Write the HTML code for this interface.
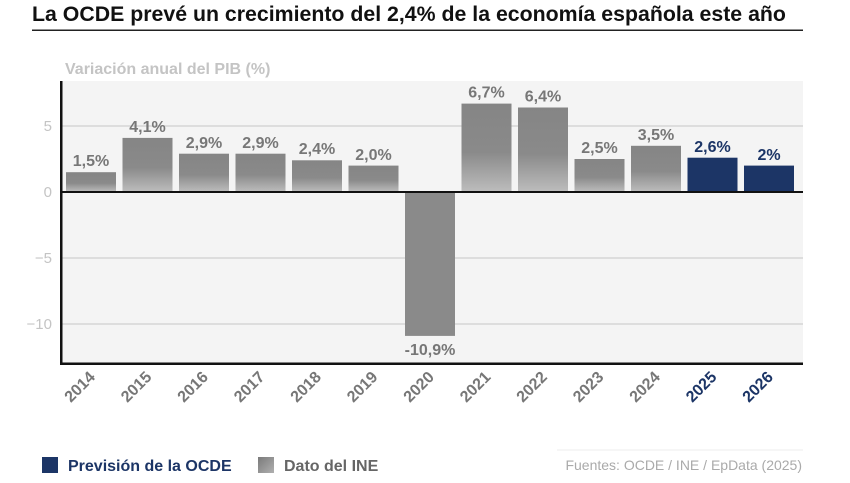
<!DOCTYPE html>
<html><head><meta charset="utf-8"><style>
body{margin:0;background:#fff;width:850px;height:478px;overflow:hidden;font-family:"Liberation Sans",sans-serif}
</style></head><body>
<svg width="850" height="478" xmlns="http://www.w3.org/2000/svg" font-family="Liberation Sans, sans-serif">
<defs>
<linearGradient id="g" x1="0" y1="0" x2="0" y2="1">
<stop offset="0" stop-color="#858585"/><stop offset="0.55" stop-color="#8a8a8a"/><stop offset="1" stop-color="#bdbdbd"/>
</linearGradient>
<linearGradient id="lg" x1="0" y1="0" x2="1" y2="1">
<stop offset="0" stop-color="#7a7a7a"/><stop offset="1" stop-color="#b0b0b0"/>
</linearGradient>
</defs>
<text x="32" y="21" font-size="21.3" font-weight="bold" fill="#111">La OCDE prevé un crecimiento del 2,4% de la economía española este año</text>
<rect x="32" y="29.5" width="771" height="1.5" fill="#222"/>
<text x="65" y="74" font-size="16" font-weight="bold" fill="#c4c4c4">Variación anual del PIB (%)</text>
<rect x="61" y="81" width="742" height="283" fill="#f4f4f4"/>
<g stroke="#cfcfcf" stroke-width="1.2">
<line x1="61" y1="126" x2="803" y2="126"/><line x1="61" y1="258" x2="803" y2="258"/><line x1="61" y1="324" x2="803" y2="324"/>
</g>
<g font-size="15" fill="#c4c4c4" text-anchor="end">
<text x="52" y="131">5</text><text x="52" y="197">0</text><text x="52" y="263">−5</text><text x="52" y="329">−10</text>
</g>
<g>
<rect x="66" y="172.2" width="50" height="19.8" fill="url(#g)"/>
<rect x="122.5" y="137.9" width="50" height="54.1" fill="url(#g)"/>
<rect x="179" y="153.7" width="50" height="38.3" fill="url(#g)"/>
<rect x="235.5" y="153.7" width="50" height="38.3" fill="url(#g)"/>
<rect x="292" y="160.3" width="50" height="31.7" fill="url(#g)"/>
<rect x="348.5" y="165.6" width="50" height="26.4" fill="url(#g)"/>
<rect x="405" y="192" width="50" height="143.9" fill="#8a8a8a"/>
<rect x="461.5" y="103.6" width="50" height="88.4" fill="url(#g)"/>
<rect x="518" y="107.5" width="50" height="84.5" fill="url(#g)"/>
<rect x="574.5" y="159" width="50" height="33" fill="url(#g)"/>
<rect x="631" y="145.8" width="50" height="46.2" fill="url(#g)"/>
<rect x="687.5" y="157.7" width="50" height="34.3" fill="#1c3566"/>
<rect x="744" y="165.6" width="50" height="26.4" fill="#1c3566"/>
</g>
<g font-size="16" font-weight="bold" text-anchor="middle" fill="#777">
<text x="91" y="166">1,5%</text>
<text x="147.5" y="132">4,1%</text>
<text x="204" y="148">2,9%</text>
<text x="260.5" y="148">2,9%</text>
<text x="317" y="154">2,4%</text>
<text x="373.5" y="160">2,0%</text>
<text x="430" y="355">-10,9%</text>
<text x="486.5" y="97.5">6,7%</text>
<text x="543" y="101.5">6,4%</text>
<text x="599.5" y="153">2,5%</text>
<text x="656" y="140">3,5%</text>
<text x="712.5" y="152" fill="#1c3566">2,6%</text>
<text x="769" y="160" fill="#1c3566">2%</text>
</g>
<g font-size="16" font-weight="bold" text-anchor="end" fill="#777">
<text transform="translate(96,378) rotate(-45)">2014</text>
<text transform="translate(152.5,378) rotate(-45)">2015</text>
<text transform="translate(209,378) rotate(-45)">2016</text>
<text transform="translate(265.5,378) rotate(-45)">2017</text>
<text transform="translate(322,378) rotate(-45)">2018</text>
<text transform="translate(378.5,378) rotate(-45)">2019</text>
<text transform="translate(435,378) rotate(-45)">2020</text>
<text transform="translate(491.5,378) rotate(-45)">2021</text>
<text transform="translate(548,378) rotate(-45)">2022</text>
<text transform="translate(604.5,378) rotate(-45)">2023</text>
<text transform="translate(661,378) rotate(-45)">2024</text>
<text transform="translate(717.5,378) rotate(-45)" fill="#1c3566">2025</text>
<text transform="translate(774,378) rotate(-45)" fill="#1c3566">2026</text>
</g>
<rect x="61" y="191" width="742" height="2" fill="#111"/>
<rect x="60" y="81" width="2.5" height="284" fill="#111"/>
<rect x="60" y="362.5" width="743" height="2.5" fill="#111"/>
<rect x="42" y="457" width="16" height="16" fill="#1c3566"/>
<text x="68" y="471" font-size="16" font-weight="bold" fill="#1c3566">Previsión de la OCDE</text>
<rect x="258" y="457" width="16" height="16" fill="url(#lg)"/>
<text x="284" y="471" font-size="16" font-weight="bold" fill="#666">Dato del INE</text>
<line x1="557" y1="450" x2="803" y2="450" stroke="#eee"/>
<text x="802" y="470" font-size="14" fill="#aaa" text-anchor="end">Fuentes: OCDE / INE / EpData (2025)</text>
</svg>
</body></html>
